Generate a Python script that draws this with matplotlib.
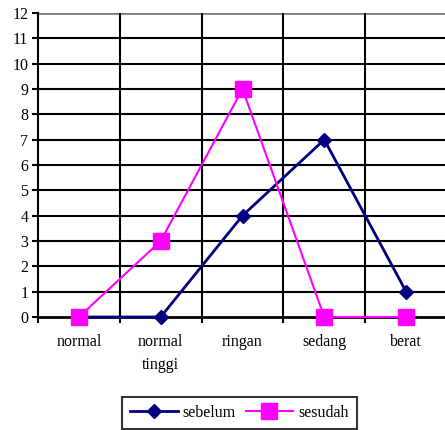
import numpy as np
import matplotlib.pyplot as plt
import matplotlib as mpl

mpl.rcParams['font.family'] = 'Liberation Serif'

categories = ['normal', 'normal\ntinggi', 'ringan', 'sedang', 'berat']
sebelum = [0, 0, 4, 7, 1]
sesudah = [0, 3, 9, 0, 0]


def main():
    fig = plt.figure(figsize=(4.45, 4.30), dpi=100)
    ax = fig.add_axes([38 / 445, 113 / 430, 409 / 445, 304 / 430])

    x = np.arange(len(categories)) + 0.5
    ax.plot(x, sebelum, color='#000080', lw=2, marker='D', ms=7.5,
            label='sebelum', zorder=3, clip_on=False)
    ax.plot(x, sesudah, color='#FF00FF', lw=1.5, marker='s', ms=11,
            label='sesudah', zorder=4, clip_on=False)

    ax.set_xlim(0, len(categories))
    ax.set_ylim(0, 12)
    ax.set_yticks(range(13))
    ax.set_xticks(range(len(categories) + 1))
    ax.set_xticklabels([])
    ax.set_xticks(x, minor=True)
    ax.set_xticklabels(categories, minor=True, linespacing=1.6, va='top')
    ax.tick_params(axis='x', which='minor', length=0, pad=12, labelsize=11.5)
    ax.tick_params(axis='x', which='major', length=4, width=1.5, direction='out')
    ax.tick_params(axis='y', length=4, width=1.5, labelsize=11.5, pad=3)

    for i in range(1, 12):
        ax.axhline(i, color='k', lw=1.5, zorder=1)
    ax.axhline(12, color='#808080', lw=2, zorder=1)
    for i in range(1, len(categories) + 1):
        ax.axvline(i, color='k', lw=1.5, zorder=1)

    for s in ['right', 'top']:
        ax.spines[s].set_visible(False)
    ax.spines['left'].set_linewidth(1.5)
    ax.spines['bottom'].set_linewidth(2)

    leg = fig.legend(loc='upper left', bbox_to_anchor=(122 / 445, 1 - 397 / 430),
                     ncol=2, frameon=True, fancybox=False, fontsize=11.5,
                     handlelength=3.0, columnspacing=0.6, handletextpad=0.3,
                     borderaxespad=0, borderpad=0.5, edgecolor='k')
    leg.get_frame().set_linewidth(1.5)

    plt.savefig('out.png', dpi=100)


if __name__ == "__main__":
    main()
